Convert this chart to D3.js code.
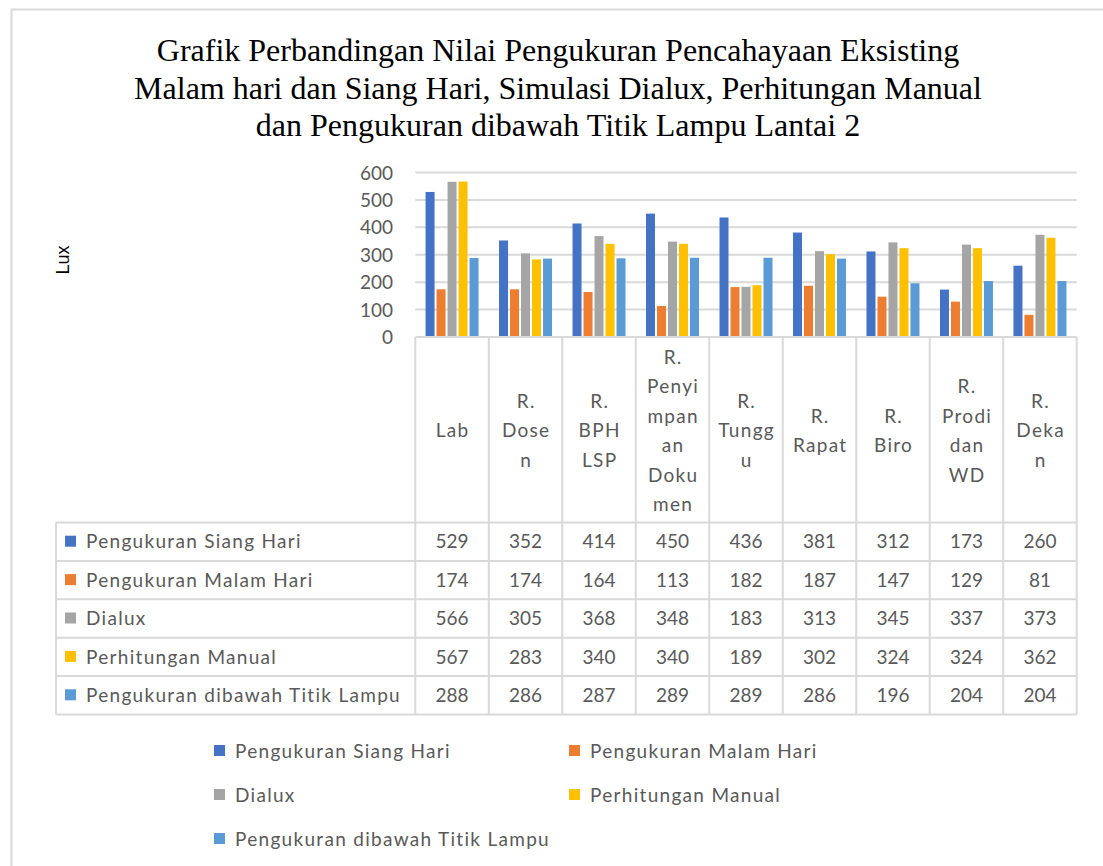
<!DOCTYPE html>
<html>
<head>
<meta charset="utf-8">
<script src="https://cdn.jsdelivr.net/npm/d3@7"></script>
<style>
  html, body { margin: 0; padding: 0; background: #fff; }
  svg { display: block; }
</style>
</head>
<body>
<svg id="chart" width="1103" height="866"></svg>
<script>
// Room names, each split into the lines shown in the category header
const categories = ["Lab", "R. Dosen", "R. BPH LSP", "R. Penyimpanan Dokumen", "R. Tunggu",
                    "R. Rapat", "R. Biro", "R. Prodi dan WD", "R. Dekan"];
const categoryLines = [
  ["Lab"],
  ["R.", "Dose", "n"],
  ["R.", "BPH", "LSP"],
  ["R.", "Penyi", "mpan", "an", "Doku", "men"],
  ["R.", "Tungg", "u"],
  ["R.", "Rapat"],
  ["R.", "Biro"],
  ["R.", "Prodi", "dan", "WD"],
  ["R.", "Deka", "n"]
];

const seriesNames = ["Pengukuran Siang Hari", "Pengukuran Malam Hari", "Dialux",
                     "Perhitungan Manual", "Pengukuran dibawah Titik Lampu"];
const seriesColors = ["#4472C4", "#ED7D31", "#A5A5A5", "#FFC000", "#5B9BD5"];

// Illuminance values (lux) per room
const siangHari   = [529, 352, 414, 450, 436, 381, 312, 173, 260];
const malamHari   = [174, 174, 164, 113, 182, 187, 147, 129, 81];
const dialux      = [566, 305, 368, 348, 183, 313, 345, 337, 373];
const manual      = [567, 283, 340, 340, 189, 302, 324, 324, 362];
const titikLampu  = [288, 286, 287, 289, 289, 286, 196, 204, 204];
const seriesValues = [siangHari, malamHari, dialux, manual, titikLampu];

const yTicks = [0, 100, 200, 300, 400, 500, 600];

const titleLines = [
  "Grafik Perbandingan Nilai Pengukuran Pencahayaan Eksisting",
  "Malam hari dan Siang Hari, Simulasi Dialux, Perhitungan Manual",
  "dan Pengukuran dibawah Titik Lampu Lantai 2"
];

const svg = d3.select("#chart");
const gridColor = "#d9d9d9";
const textColor = "#595959";
const sansFont = "Lato, 'Open Sans', sans-serif";
const wordSpacing = 1.3;   // extra tracking for word labels

// Chart frame
svg.append("rect")
  .attr("x", 11.5).attr("y", 9.5)
  .attr("width", 1120).attr("height", 900)
  .attr("fill", "#fff").attr("stroke", gridColor).attr("stroke-width", 2);

// Title
svg.append("g").selectAll("text").data(titleLines).join("text")
  .attr("x", 558).attr("y", (d, i) => 61 + i * 37.5)
  .attr("text-anchor", "middle")
  .attr("font-family", "'Liberation Serif', 'Times New Roman', serif")
  .attr("font-size", 32)
  .attr("fill", "#000")
  .text(d => d);

// Plot geometry
const plotLeft = 415.3, plotRight = 1076.7;
const plotTop = 172.5, plotBottom = 337;
const tableTop = 522.5, rowH = 38.4;
const tableLeft = 56;

const x0 = d3.scaleBand().domain(categories).range([plotLeft, plotRight]).padding(0);
const groupPad = 10.25;
const x1 = d3.scaleBand().domain(seriesNames)
  .range([groupPad, x0.bandwidth() - groupPad])
  .paddingInner(2 / 11).paddingOuter(0);
const y = d3.scaleLinear().domain([0, 600]).range([plotBottom, plotTop]);

// Gridlines
svg.append("g").selectAll("line").data(yTicks.filter(t => t > 0)).join("line")
  .attr("x1", plotLeft).attr("x2", plotRight)
  .attr("y1", d => y(d)).attr("y2", d => y(d))
  .attr("stroke", gridColor).attr("stroke-width", 2);

// Y axis labels
const yAxis = d3.axisLeft(y).tickValues(yTicks).tickSize(0).tickPadding(0);
const yg = svg.append("g").attr("transform", `translate(393,0)`).call(yAxis);
yg.select(".domain").remove();
yg.selectAll("text")
  .attr("font-family", sansFont).attr("font-size", 19).attr("fill", textColor)
  .attr("dy", "0.35em");

// Y axis title
svg.append("text")
  .attr("transform", "translate(69,260) rotate(-90)")
  .attr("text-anchor", "middle")
  .attr("font-family", "'Liberation Sans', Arial, sans-serif")
  .attr("font-size", 18).attr("fill", "#000")
  .text("Lux");

// Bars
const groups = svg.append("g").selectAll("g").data(categories).join("g")
  .attr("transform", d => `translate(${x0(d)},0)`);
groups.selectAll("rect")
  .data((c, ci) => seriesNames.map((s, si) => ({ s, si, v: seriesValues[si][ci] })))
  .join("rect")
  .attr("x", d => x1(d.s))
  .attr("width", x1.bandwidth())
  .attr("y", d => y(d.v))
  .attr("height", d => y(0) - y(d.v))
  .attr("fill", d => seriesColors[d.si]);

// Category axis line and data table grid
const tableBottom = tableTop + rowH * seriesNames.length;
const grid = svg.append("g").attr("stroke", gridColor).attr("stroke-width", 2).attr("fill", "none");
grid.append("line").attr("x1", plotLeft).attr("x2", plotRight).attr("y1", plotBottom).attr("y2", plotBottom);
const colEdges = categories.map(c => x0(c)).concat([plotRight]);
grid.selectAll("line.v").data(colEdges).join("line").attr("class", "v")
  .attr("x1", d => d).attr("x2", d => d)
  .attr("y1", plotBottom).attr("y2", tableBottom);
grid.append("line").attr("x1", tableLeft).attr("x2", tableLeft).attr("y1", tableTop).attr("y2", tableBottom);
grid.selectAll("line.h").data(d3.range(seriesNames.length + 1)).join("line").attr("class", "h")
  .attr("x1", tableLeft).attr("x2", plotRight)
  .attr("y1", i => tableTop + i * rowH).attr("y2", i => tableTop + i * rowH);

// Category header labels
const headerMid = (plotBottom + tableTop) / 2 + 1;
const lineH = 29.5;
svg.append("g").selectAll("text").data(categories).join("text")
  .attr("text-anchor", "middle")
  .attr("font-family", sansFont).attr("font-size", 19).attr("fill", textColor)
  .attr("letter-spacing", wordSpacing)
  .each(function (c, ci) {
    const lines = categoryLines[ci];
    const start = headerMid - (lines.length - 1) * lineH / 2;
    d3.select(this).selectAll("tspan").data(lines).join("tspan")
      .attr("x", x0(c) + x0.bandwidth() / 2 + wordSpacing / 2)
      .attr("y", (d, i) => start + i * lineH)
      .attr("dy", "0.35em")
      .text(d => d);
  });

// Data table rows: legend key, name and values
const rows = svg.append("g").selectAll("g").data(seriesNames).join("g")
  .attr("transform", (d, i) => `translate(0,${tableTop + i * rowH + rowH / 2})`);
rows.append("rect")
  .attr("x", 65).attr("y", -6).attr("width", 11).attr("height", 11)
  .attr("fill", (d, i) => seriesColors[i]);
rows.append("text")
  .attr("x", 86).attr("dy", "0.35em")
  .attr("font-family", sansFont).attr("font-size", 19).attr("fill", textColor)
  .attr("letter-spacing", wordSpacing)
  .text(d => d);
rows.selectAll("text.val")
  .data((s, si) => categories.map((c, ci) => ({ c, v: seriesValues[si][ci] })))
  .join("text").attr("class", "val")
  .attr("x", d => x0(d.c) + x0.bandwidth() / 2).attr("dy", "0.35em")
  .attr("text-anchor", "middle")
  .attr("font-family", sansFont).attr("font-size", 19).attr("fill", textColor)
  .text(d => d.v);

// Legend
const legendPos = [[214, 751], [569, 751], [214, 795], [569, 795], [214, 839]];
const legend = svg.append("g").selectAll("g").data(seriesNames).join("g")
  .attr("transform", (d, i) => `translate(${legendPos[i][0]},${legendPos[i][1]})`);
legend.append("rect")
  .attr("x", 0).attr("y", -6).attr("width", 11).attr("height", 11)
  .attr("fill", (d, i) => seriesColors[i]);
legend.append("text")
  .attr("x", 21).attr("dy", "0.35em")
  .attr("font-family", sansFont).attr("font-size", 19).attr("fill", textColor)
  .attr("letter-spacing", wordSpacing)
  .text(d => d);
</script>
</body>
</html>
